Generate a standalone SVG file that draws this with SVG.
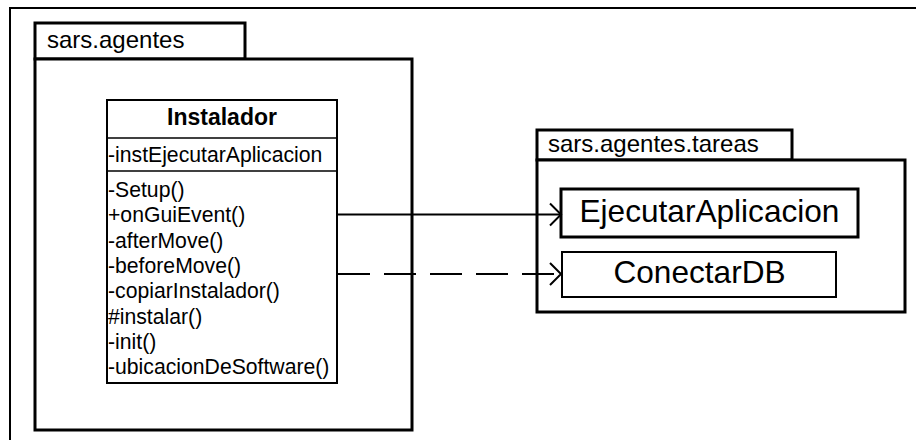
<svg xmlns="http://www.w3.org/2000/svg" width="916" height="440" viewBox="0 0 916 440">
  <style>
    text { font-family: "Liberation Sans", Arial, sans-serif; fill: #000; }
    .pkg { fill: #fff; stroke: #000; stroke-width: 3; }
    .cls { fill: #fff; stroke: #000; stroke-width: 2; }
    .sep { stroke: #000; stroke-width: 1.6; }
    .pkgname { font-size: 24px; }
    .member { font-size: 21.2px; }
    .title { font-size: 23px; font-weight: bold; }
    .big { font-size: 31.6px; }
    .edge { fill: none; stroke: #000; stroke-width: 2; }
  </style>
  <defs>
    <marker id="open" markerWidth="14" markerHeight="26" refX="12" refY="13" orient="auto" markerUnits="userSpaceOnUse">
      <path d="M1,2 L12,13 L1,24" fill="none" stroke="#000" stroke-width="2"/>
    </marker>
  </defs>

  <rect width="916" height="440" fill="#fff"/>

  <!-- outer frame -->
  <path d="M10,440 V8 H916" fill="none" stroke="#000" stroke-width="2"/>

  <!-- package sars.agentes -->
  <g id="pkg-sars-agentes">
    <rect class="pkg" x="35" y="23" width="210" height="36"/>
    <rect class="pkg" x="35" y="59" width="377" height="371"/>
    <text class="pkgname" x="47" y="48">sars.agentes</text>
  </g>

  <!-- class Instalador -->
  <g id="cls-instalador">
    <rect class="cls" x="107" y="100" width="230" height="283"/>
    <line class="sep" x1="107" y1="138" x2="337" y2="138"/>
    <line class="sep" x1="107" y1="171" x2="337" y2="171"/>
    <text class="title" x="222" y="125" text-anchor="middle">Instalador</text>
    <text class="member" x="108" y="162">-instEjecutarAplicacion</text>
    <text class="member" x="108" y="197">-Setup()</text>
    <text class="member" x="108" y="222.3">+onGuiEvent()</text>
    <text class="member" x="108" y="247.6">-afterMove()</text>
    <text class="member" x="108" y="272.9">-beforeMove()</text>
    <text class="member" x="108" y="298.2">-copiarInstalador()</text>
    <text class="member" x="108" y="323.5">#instalar()</text>
    <text class="member" x="108" y="348.8">-init()</text>
    <text class="member" x="108" y="374.1">-ubicacionDeSoftware()</text>
  </g>

  <!-- package sars.agentes.tareas -->
  <g id="pkg-sars-agentes-tareas">
    <rect class="pkg" x="537" y="130" width="255" height="30"/>
    <rect class="pkg" x="537" y="160" width="368" height="152"/>
    <text class="pkgname" x="548" y="152">sars.agentes.tareas</text>
  </g>

  <!-- EjecutarAplicacion -->
  <g id="cls-ejecutar">
    <rect x="561" y="189" width="297" height="48" fill="#fff" stroke="#000" stroke-width="3"/>
    <text class="big" x="709.5" y="222" text-anchor="middle">EjecutarAplicacion</text>
  </g>

  <!-- ConectarDB -->
  <g id="cls-conectar">
    <rect class="cls" x="562" y="252" width="274" height="45"/>
    <text class="big" x="699.5" y="283" text-anchor="middle">ConectarDB</text>
  </g>

  <!-- dependencies -->
  <g id="connectors">
    <line class="edge" x1="337" y1="214.5" x2="561" y2="214.5" marker-end="url(#open)"/>
    <line class="edge" x1="338" y1="274" x2="561" y2="274" stroke-dasharray="32 14" marker-end="url(#open)"/>
  </g>
</svg>
